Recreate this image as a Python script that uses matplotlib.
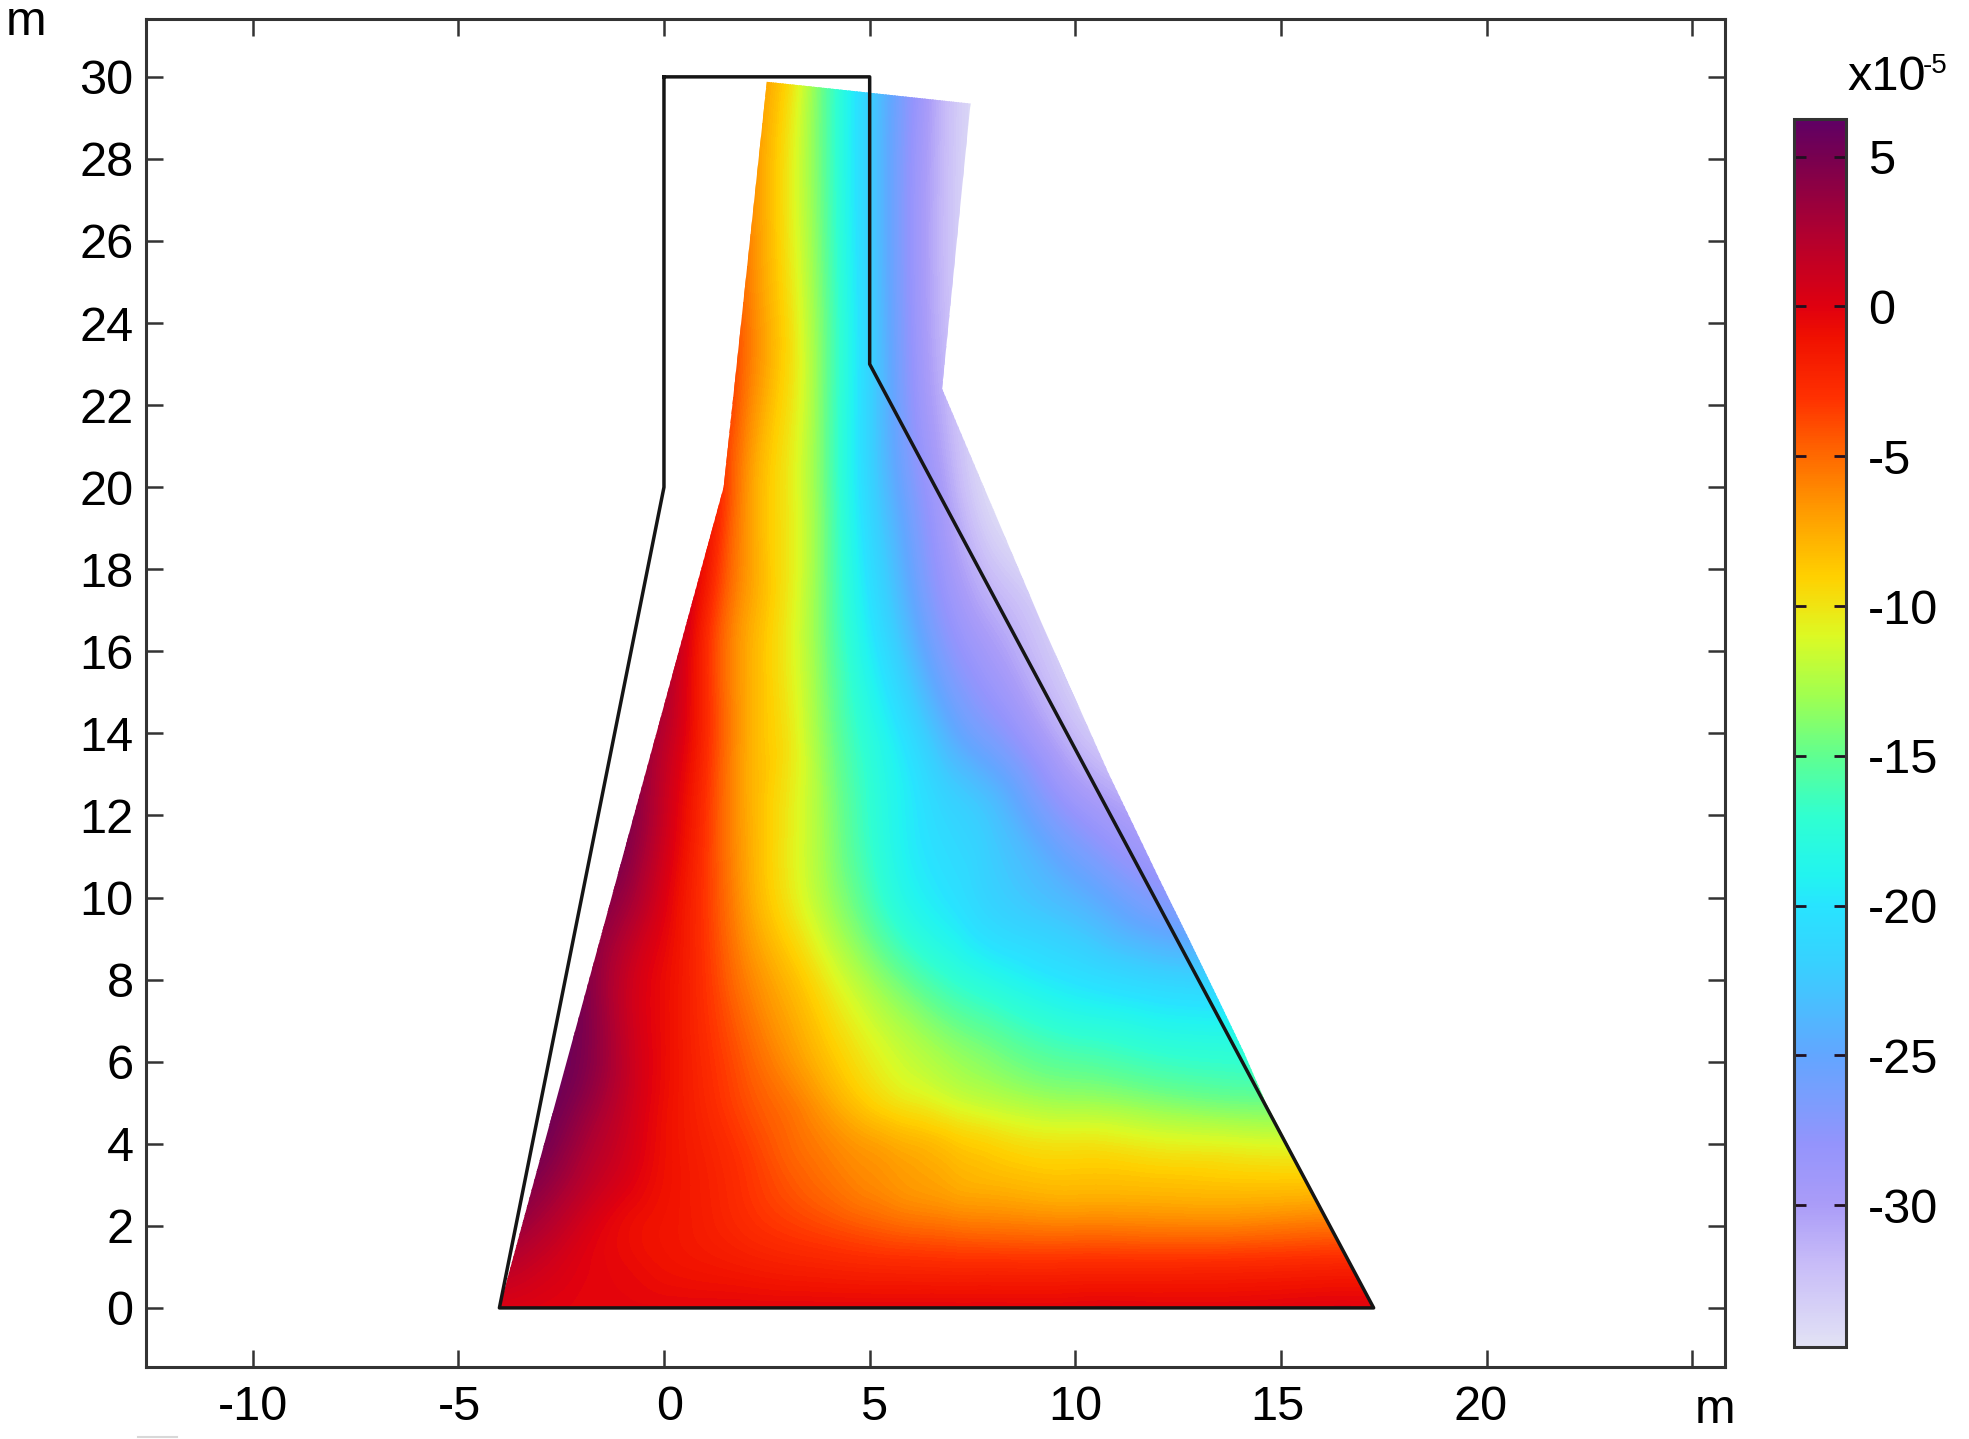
import numpy as np
import matplotlib
matplotlib.use("Agg")
import matplotlib.pyplot as plt
import matplotlib.tri as mtri
from matplotlib.colors import LinearSegmentedColormap, Normalize
from matplotlib.cm import ScalarMappable
from matplotlib.lines import Line2D
from matplotlib.patches import Polygon
from matplotlib.transforms import ScaledTranslation

plt.rcParams['font.family'] = ['Liberation Sans', 'DejaVu Sans']
plt.rcParams['axes.unicode_minus'] = False

W, H = 1969, 1439
FS = 35
DARK = "#333333"

# original shape and the deformed one, metres
outline_x = [0, 5, 5, 17.25, -4, 0, 0]
outline_y = [30, 30, 23, 0, 0, 20, 30]
deformed_x = [-4, 1.45, 2.5, 7.45, 6.76, 9.18, 10.8, 12.05, 12.77, 13.52, 14.1, 14.63, 17.26]
deformed_y = [0, 20, 29.88, 29.35, 22.4, 16.69, 13.04, 10.43, 8.97, 7.43, 6.22, 5, 0]

xticks = [-10, -5, 0, 5, 10, 15, 20, 25]
xticklabels = ["-10", "-5", "0", "5", "10", "15", "20", ""]
xlabel_shift = [0, 1, 6, 4, 0, -4, -6, 0]
yticks = list(range(0, 31, 2))
cbar_ticks = [5, 0, -5, -10, -15, -20, -25, -30]
vmin, vmax = -34.74, 6.26

# colour scale (value, colour)
scale_val = [-34.74, -32, -30, -28, -25, -22, -20, -19, -17, -15, -13, -11, -10, -9, -7, -5, -3, -1, 0, 2.5, 5, 6.26]
scale_col = ["#e2e2f5", "#c8bcf8", "#aa9cf8", "#9494fc", "#62a6ff", "#38d0ff", "#28e4ff", "#22f4f0", "#30ffd0",
             "#60ff90", "#a0ff50", "#dcfa24", "#f0e412", "#ffd000", "#ffa000", "#ff6a00", "#ff3000", "#f01000",
             "#e0000f", "#b00030", "#78004f", "#5f0065"]

# field values (x1e-5), on a rough grid
grid_x = [-4, -3, -2, -1, 0, 1, 2, 3, 4, 5, 6, 7, 8, 10, 12, 14, 18]
grid_y = [0, 1, 2, 3, 4, 5, 6, 8, 10, 12, 14, 17, 20, 24, 30]
row_0 = [0.2, 0, -0.2, -0.3, -0.3, -0.3, -0.3, -0.3, -0.3, -0.3, -0.3, -0.3, -0.3, -0.3, -0.3, -0.3, -0.3]
row_1 = [2, 1, 0, -0.5, -1, -1.3, -1.6, -1.9, -2.1, -2.3, -2.4, -2.5, -2.5, -2.5, -2.5, -2.4, -2.2]
row_2 = [4, 2.5, 0.7, -0.6, -1.2, -1.8, -2.6, -3.3, -3.9, -4.5, -5, -5.3, -5.5, -5.7, -5.8, -5.8, -5.6]
row_3 = [5.5, 4, 2, 0.3, -1, -1.9, -3, -4.2, -5.2, -6.1, -6.8, -7.4, -7.8, -8.2, -8.3, -8.5, -8.6]
row_4 = [6, 5.2, 3, 1, -0.9, -2.1, -3.4, -4.8, -6, -7, -7.8, -8.6, -9.3, -10, -10.6, -11, -11.5]
row_5 = [6, 5.8, 4, 1.5, -0.8, -2.4, -4, -5.4, -7.2, -9, -10.2, -11.2, -12, -13, -13.8, -14.5, -15]
row_6 = [6, 6, 4.7, 1.8, -0.7, -2.6, -4.5, -6.4, -8.4, -10.3, -11.8, -13, -14, -15.5, -16.5, -17, -17]
row_8 = [6, 6, 4.8, 1.6, -0.7, -3, -5.8, -8, -10.5, -13, -15.2, -17, -18.3, -20.2, -21.5, -22, -22]
row_10 = [6, 6, 5.2, 3.5, 0.2, -3.2, -7, -10, -13, -16, -18.7, -20.2, -21.8, -24, -27, -28, -30]
row_12 = [6, 6, 6, 5, 1.2, -3, -7.3, -10.2, -13.6, -17, -19.6, -21.5, -23, -28, -31, -33, -35]
row_14 = [6, 6, 6, 5, 2, -2.5, -7.3, -10, -14.2, -17.8, -21, -24.5, -26.8, -32, -35, -36, -36]
row_17 = [6, 6, 6, 5, 3, -2, -7, -10.3, -15, -20, -24.5, -28.5, -31, -34.5, -36, -36, -36]
row_20 = [4, 4, 4, 3, 1, -1, -6.5, -10.2, -15.3, -21.5, -26.5, -31, -34.5, -36, -36, -36, -36]
row_24 = [2, 2, 2, 1, 0, -1, -5.3, -9.5, -15.3, -21.8, -28, -32.5, -35, -36, -36, -36, -36]
row_30 = [2, 2, 2, 1, 0, -1, -5.5, -9.3, -15.8, -22, -27.5, -32.5, -35, -36, -36, -36, -36]
field = np.array([row_0, row_1, row_2, row_3, row_4, row_5, row_6, row_8, row_10,
                  row_12, row_14, row_17, row_20, row_24, row_30], dtype=float)

cmap = LinearSegmentedColormap.from_list(
    "comsol", [((v - vmin) / (vmax - vmin), c) for v, c in zip(scale_val, scale_col)], N=512)
norm = Normalize(vmin, vmax)


def frame(x0, y0, x1, y1):
    # pixel box (top-left origin) to figure fractions
    return [x0 / W, 1 - y1 / H, (x1 - x0) / W, (y1 - y0) / H]


def put(x, y, s, **kw):
    return fig.text(x / W, 1 - y / H, s, fontsize=kw.pop("fontsize", FS), color="black", **kw)


fig = plt.figure(figsize=(W / 100, H / 100), dpi=100)
ax = fig.add_axes(frame(146, 19, 1725, 1367))

gx, gy = np.meshgrid(grid_x, grid_y)
tri = mtri.Triangulation(gx.ravel(), gy.ravel())
interp = mtri.CubicTriInterpolator(tri, field.ravel())
fine, fine_z = mtri.UniformTriRefiner(tri).refine_field(field.ravel(), interp, subdiv=3)
shape = Polygon(np.column_stack([deformed_x, deformed_y]), closed=True, transform=ax.transData,
                fc="none", ec="none")
ax.add_patch(shape)
cs = ax.tricontourf(fine, fine_z, levels=np.linspace(vmin, vmax, 200), cmap=cmap, norm=norm,
                    extend="both", antialiased=False)
cs.set_clip_path(shape)

ax.plot(outline_x, outline_y, color="#151515", lw=2.5, solid_joinstyle="round")

ax.set_xlim(-12.59, 25.79)
ax.set_ylim(-1.44, 31.41)
ax.set_xticks(xticks)
ax.set_xticklabels(xticklabels)
ax.set_yticks(yticks)
ax.tick_params(axis="both", direction="in", top=True, right=True, length=12.5, width=1.8,
               color=DARK, labelsize=FS, labelcolor="black")
ax.tick_params(axis="y", pad=9)
ax.tick_params(axis="x", pad=13)
for lab, dx in zip(ax.get_xticklabels(), xlabel_shift):
    lab.set_transform(lab.get_transform() + ScaledTranslation(dx / 100, 0, fig.dpi_scale_trans))
for s in ax.spines.values():
    s.set_linewidth(2.2)
    s.set_color(DARK)

cax = fig.add_axes(frame(1794, 119, 1846, 1347))
cb = fig.colorbar(ScalarMappable(norm=norm, cmap=cmap), cax=cax, ticks=cbar_ticks)
cb.ax.tick_params(direction="in", left=True, right=True, length=8.5, width=2, color="#201020",
                  labelsize=FS, labelcolor="black", pad=16)
cb.outline.set_linewidth(2.2)
cb.outline.set_edgecolor(DARK)

put(6, 35, "m")
put(1715, 1423, "m", ha="center")
put(1847, 90, "x10")
put(1923, 73, "-5", fontsize=20)

# faint scan mark under the plot
fig.add_artist(Line2D([138 / W, 177 / W], [1 - 1437 / H] * 2, color="#d8d8d8", lw=1.5))

fig.savefig("out.png", dpi=100)
